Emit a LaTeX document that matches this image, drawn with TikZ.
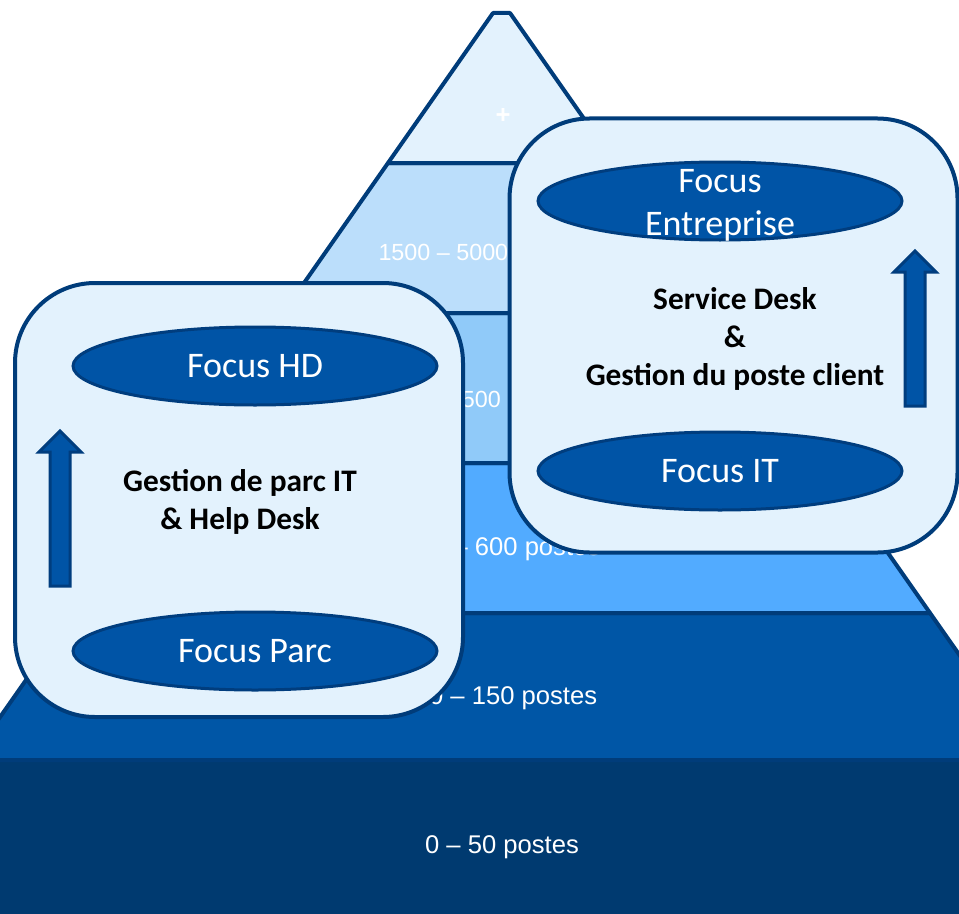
\documentclass[tikz,border=0pt]{standalone}
\usepackage{fontspec}
\setmainfont{Carlito}
\newfontfamily\arialf{Liberation Sans}
\usetikzlibrary{shapes.geometric}
\definecolor{lightb}{HTML}{E3F2FD}
\definecolor{bandtwo}{HTML}{BBDEFB}
\definecolor{bandthree}{HTML}{90CAF9}
\definecolor{bandfour}{HTML}{52ABFF}
\definecolor{bandfive}{HTML}{0056A6}
\definecolor{bandsix}{HTML}{003A70}
\definecolor{lineblue}{HTML}{003C7A}
\definecolor{elfill}{HTML}{0054A6}
\definecolor{elline}{HTML}{003D7E}
\begin{document}
\begin{tikzpicture}[x=0.75pt,y=-0.75pt,
  band/.style={draw=lineblue, line width=3pt, line join=round},
  bandtext/.style={text=white, font=\arialf\fontsize{17.5}{21}\selectfont, anchor=base, inner sep=0pt},
  bandtextbig/.style={bandtext, font=\arialf\fontsize{19.2}{23}\selectfont},
  panel/.style={draw=lineblue, fill=lightb, line width=3pt, rounded corners=60pt, minimum width=336pt, minimum height=325.5pt, inner sep=0pt},
  focus/.style={ellipse, draw=elline, fill=elfill, line width=2.25pt, minimum width=273pt, minimum height=58.5pt, inner sep=0pt, text=white, font=\fontsize{27}{32.25}\selectfont},
  focustext/.style={text=white, font=\fontsize{27}{32.25}\selectfont, align=center, inner sep=0pt},
  maintext/.style={font=\bfseries\fontsize{23.5}{28.5}\selectfont, align=center, inner sep=0pt},
  uparrow/.style={draw=elline, fill=elfill, line width=2.25pt, line join=miter}]
\useasboundingbox (0,0) rectangle (959,913);
\clip (0,0) rectangle (959,913);
% pyramid bands
\fill[bandsix] (-10,760) rectangle (970,925);
\draw[band, fill=bandfive] (73,613) -- (930,613) -- (1033,760) -- (-30,760) -- cycle;
\draw[band, fill=bandfour] (178,463) -- (825,463) -- (930,613) -- (73,613) -- cycle;
\draw[band, fill=bandthree] (283,313) -- (720,313) -- (825,463) -- (178,463) -- cycle;
\draw[band, fill=bandtwo] (388,163) -- (615,163) -- (720,313) -- (283,313) -- cycle;
\draw[band, fill=lightb] (493,13) -- (510,13) -- (615,163) -- (388,163) -- cycle;
% band labels
\node[bandtextbig, font=\arialf\bfseries\fontsize{19.2}{23}\selectfont] (tplus) at (503,123) {+};
\node[bandtext] (t5000) at (481,260) {1500 – 5000 postes};
\node[bandtext] (t1500) at (480,407) {600 – 1500 postes};
\node[bandtextbig] (t600) at (502,555) {150 – 600 postes};
\node[bandtextbig] (t150) at (506,704) {50 – 150 postes};
\node[bandtextbig] (t50) at (502,853) {0 – 50 postes};
% panels
\node[panel] (panelL) at (239,500) {};
\node[panel] (panelR) at (733.5,335.5) {};
% ellipses
\node[focus] (fhd) at (255,366) {Focus HD};
\node[focus] (fparc) at (255,651) {Focus Parc};
\node[focus] (fent) at (720,201) {};
\node[focustext] (fentt) at (720,205.5) {Focus\\Entreprise};
\node[focus] (fit) at (720,471) {Focus IT};
% middle texts
\node[maintext] (txtL) at (240,502) {Gestion de parc IT\\\& Help Desk};
\node[maintext] (txtR) at (735,338.5) {Service Desk\\\&\\Gestion du poste client};
% arrows
\draw[uparrow] (50,586) -- (50,452) -- (39,452) -- (60,431) -- (81,452) -- (70,452) -- (70,586) -- cycle;
\draw[uparrow] (905,406) -- (905,272) -- (894,272) -- (915,251) -- (936,272) -- (925,272) -- (925,406) -- cycle;
\end{tikzpicture}
\end{document}
